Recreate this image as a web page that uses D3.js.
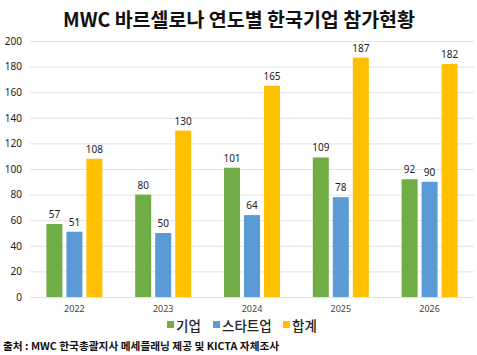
<!DOCTYPE html>
<html><head><meta charset="utf-8">
<script src="https://cdn.jsdelivr.net/npm/d3@7"></script>
<style>body{margin:0;background:#fff;}svg{display:block;font-family:"Noto Sans CJK KR","Noto Sans",sans-serif;}</style>
</head><body>
<svg id="c" width="477" height="355"></svg>
<script>
const years = ["2022","2023","2024","2025","2026"];
const seriesNames = ["기업","스타트업","합계"];
const corp = [57,80,101,109,92];
const startup = [51,50,64,78,90];
const total = [108,130,165,187,182];
const yTicks = [0,20,40,60,80,100,120,140,160,180,200];
const colors = ["#70AD47","#5B9BD5","#FFC000"];
const title = "MWC 바르셀로나 연도별 한국기업 참가현황";
const source = "출처 : MWC 한국총괄지사 메세플래닝 제공 및 KICTA 자체조사";

const svg = d3.select("#c");
const m = {l:30, r:3, t:41, b:58};
const W = 477, H = 355;
const x = d3.scaleBand().domain(years).range([m.l, W-m.r]).padding(0);
const y = d3.scaleLinear().domain([0,200]).range([297,41]);
const inner = d3.scaleBand().domain(seriesNames).range([-28,28]).paddingInner(0.2);

svg.append("text").attr("x",239).attr("y",27).attr("text-anchor","middle")
  .attr("font-size",19.5).attr("font-weight","bold").attr("fill","#111").text(title);

svg.append("g").selectAll("line").data(yTicks).join("line")
  .attr("x1",m.l).attr("x2",W-m.r).attr("y1",d=>y(d)+0.5).attr("y2",d=>y(d)+0.5)
  .attr("stroke","#e3e3e3").attr("stroke-width",1);

const yAxis = svg.append("g").attr("transform",`translate(${m.l},0)`)
  .call(d3.axisLeft(y).tickValues(yTicks).tickSize(0).tickPadding(8));
yAxis.select(".domain").remove();
yAxis.selectAll("text").attr("font-size",10).attr("fill","#222").attr("font-family","'Noto Sans',sans-serif");

const xAxis = svg.append("g").attr("transform",`translate(0,297)`)
  .call(d3.axisBottom(x).tickSize(0).tickPadding(9));
xAxis.select(".domain").remove();
xAxis.selectAll("text").attr("font-size",9).attr("fill","#444").attr("font-family","'Noto Sans',sans-serif");

const data = [corp, startup, total];
seriesNames.forEach((s,i)=>{
  const g = svg.append("g");
  g.selectAll("rect").data(years).join("rect")
    .attr("x",(d)=>x(d)+x.bandwidth()/2+inner(s))
    .attr("width",inner.bandwidth())
    .attr("y",(d,j)=>y(data[i][j]))
    .attr("height",(d,j)=>y(0)-y(data[i][j]))
    .attr("fill",colors[i]);
  g.selectAll("text").data(years).join("text")
    .attr("x",(d)=>x(d)+x.bandwidth()/2+inner(s)+inner.bandwidth()/2)
    .attr("y",(d,j)=>y(data[i][j])-6)
    .attr("text-anchor","middle").attr("font-size",10).attr("fill","#222")
    .attr("font-family","'Noto Sans',sans-serif")
    .text((d,j)=>data[i][j]);
});

// legend
const lg = svg.append("g");
const legX = [167, 213, 283];
seriesNames.forEach((s,i)=>{
  lg.append("rect").attr("x",legX[i]).attr("y",321).attr("width",7).attr("height",7).attr("fill",colors[i]);
  lg.append("text").attr("x",legX[i]+9).attr("y",331).attr("font-size",13.5).attr("font-weight",500).attr("fill","#222").text(s);
});

svg.append("text").attr("x",3).attr("y",350).attr("font-size",10.7).attr("font-weight","bold").attr("fill","#111").text(source);
</script>
</body></html>
